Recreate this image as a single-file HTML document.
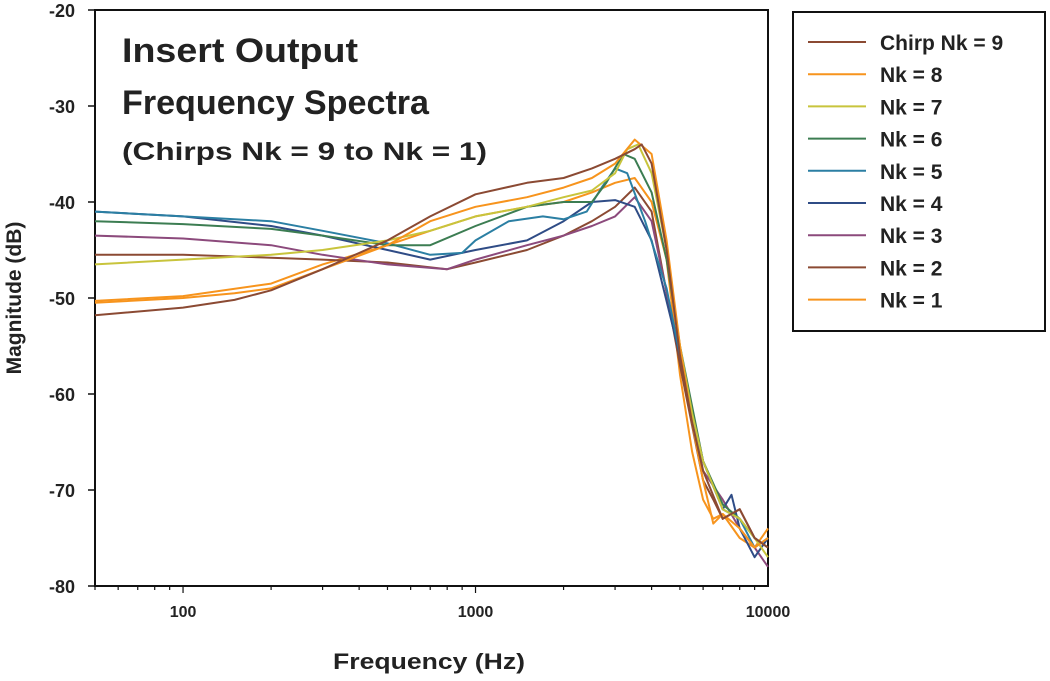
<!DOCTYPE html>
<html><head><meta charset="utf-8"><style>
body{margin:0;background:#fff;}
svg text{font-family:"Liberation Sans",Arial,sans-serif;font-weight:bold;fill:#222;}
</style></head><body>
<svg id="chart" width="1050" height="676" viewBox="0 0 1050 676" xmlns="http://www.w3.org/2000/svg">
<rect x="95" y="10" width="673" height="576" fill="#fff" stroke="#111" stroke-width="2"/>
<g id="ticks"></g>
<g id="series"></g>
<text x="122" y="62" font-size="34" textLength="236" lengthAdjust="spacingAndGlyphs">Insert Output</text>
<text x="122" y="114" font-size="34" textLength="307" lengthAdjust="spacingAndGlyphs">Frequency Spectra</text>
<text x="122" y="160" font-size="25" textLength="365" lengthAdjust="spacingAndGlyphs">(Chirps Nk = 9 to Nk = 1)</text>
<text x="429" y="669" font-size="22" text-anchor="middle" textLength="192" lengthAdjust="spacingAndGlyphs">Frequency (Hz)</text>
<text transform="translate(21,298) rotate(-90)" font-size="21" text-anchor="middle">Magnitude (dB)</text>
<rect x="793" y="12" width="252" height="319" fill="#fff" stroke="#111" stroke-width="2"/>
<g id="legend"></g>
</svg>
<script>
const names=["Chirp Nk = 9","Nk = 8","Nk = 7","Nk = 6","Nk = 5","Nk = 4","Nk = 3","Nk = 2","Nk = 1"];
const colors=["#8b4a33","#f7941d","#c8c43c","#3c7d52","#2b7fa3","#2f4c86","#8c4a7c","#8b4a33","#f7941d"];
const yTicks=[-20,-30,-40,-50,-60,-70,-80];
const xTicks=[100,1000,10000];
const f9=[50,100,150,200,300,500,700,1000,1500,2000,2500,3000,3500,3700,4000,4500,5000,5500,6000,7000,8000,9000,10000];
const m9=[-51.8,-51,-50.2,-49.2,-47,-44,-41.5,-39.2,-38,-37.5,-36.5,-35.5,-34.5,-34,-36,-45,-56,-63,-68,-73,-72,-75,-76];
const f8=[50,100,150,200,300,500,700,1000,1500,2000,2500,3000,3500,4000,4500,5000,5500,6000,6500,7000,8000,9000,10000];
const m8=[-50.5,-50,-49.5,-49,-47,-44.5,-42,-40.5,-39.5,-38.5,-37.5,-36,-33.5,-35,-44,-55,-63,-69,-73.5,-72.5,-74,-76,-75];
const f7=[50,100,200,300,500,700,1000,1500,2000,2500,3000,3300,3600,4000,4500,5000,5500,6000,7000,8000,9000,10000];
const m7=[-46.5,-46,-45.5,-45,-44,-43,-41.5,-40.5,-39.5,-38.8,-37,-34.5,-34,-37,-45,-55,-62,-67,-72,-73,-75,-77];
const f6=[50,100,200,300,500,700,1000,1500,2000,2500,2800,3200,3500,4000,4500,5000,6000,7000,8000,9000,10000];
const m6=[-42,-42.3,-42.8,-43.5,-44.5,-44.5,-42.5,-40.5,-40,-40,-38,-35,-35.5,-39,-46,-55,-67,-71.5,-73,-75,-76];
const f5=[50,100,200,300,500,700,900,1000,1300,1700,2000,2400,2700,3000,3300,3800,4500,5000,6000,7000,8000,9000,10000];
const m5=[-41,-41.5,-42,-43,-44.3,-45.5,-45.3,-44,-42,-41.5,-41.8,-41,-38.5,-36.5,-37,-42,-49,-56,-67,-72,-73,-76,-75];
const f4=[50,100,200,300,500,700,1000,1500,2000,2500,3000,3500,4000,5000,6000,7000,7500,8000,9000,10000];
const m4=[-41,-41.5,-42.5,-43.5,-45,-46,-45,-44,-42,-40,-39.8,-40.5,-44,-56,-67,-72,-70.5,-74,-77,-75];
const f3=[50,100,200,300,500,800,1000,1500,2000,2500,3000,3500,4000,5000,6000,7000,8000,9000,10000];
const m3=[-43.5,-43.8,-44.5,-45.5,-46.5,-47,-46,-44.5,-43.5,-42.5,-41.5,-39.5,-42,-56,-68,-71,-74,-76,-78];
const f2=[50,100,200,300,500,800,1000,1500,2000,2500,3000,3500,4000,5000,6000,6500,7000,8000,9000,10000];
const m2=[-45.5,-45.5,-45.8,-46,-46.3,-47,-46.3,-45,-43.5,-42,-40.5,-38.5,-41,-57,-69,-71,-73,-72,-75,-76];
const f1=[50,100,200,300,500,700,1000,1500,2000,2500,3000,3500,4000,4500,5000,5500,6000,6500,7000,8000,9000,10000];
const m1=[-50.3,-49.8,-48.5,-46.5,-44.5,-43,-41.5,-40.5,-40,-39,-38,-37.5,-40,-46,-58,-66,-71,-73,-72.5,-75,-76,-74];
const freqs=[f9,f8,f7,f6,f5,f4,f3,f2,f1];
const mags=[m9,m8,m7,m6,m5,m4,m3,m2,m1];

const NS="http://www.w3.org/2000/svg";
const X0=95,X1=768,Y0=10,Y1=586;
function xs(f){return X0+(Math.log10(f)-Math.log10(50))/(4-Math.log10(50))*(X1-X0);}
function ys(v){return Y0+(-20-v)/60*(Y1-Y0);}
function mk(t,a){const e=document.createElementNS(NS,t);for(const k in a)e.setAttribute(k,a[k]);return e;}
const tg=document.getElementById('ticks');
yTicks.forEach(v=>{
  const l=mk('line',{x1:X0-7,x2:X0,y1:ys(v),y2:ys(v),stroke:'#111','stroke-width':1.5});
  
  
  tg.appendChild(l);
  const t=mk('text',{x:X0-20,y:ys(v)+7,'font-size':18,'text-anchor':'end'});
  
  
  t.textContent=v;tg.appendChild(t);
});
for(let d=10;d<=1000;d*=10){for(let k=1;k<=9;k++){const fv=k*d;if(fv<50||fv>10000)continue;
  const major=(k===1);
  const l=mk('line',{x1:xs(fv),x2:xs(fv),y1:Y1,y2:Y1+(major?7:4),stroke:'#111','stroke-width':1.2});
  
  
  tg.appendChild(l);}}
xTicks.forEach(v=>{
  const t=mk('text',{x:xs(v),y:Y1+31,'font-size':16,'text-anchor':'middle'});
  
  
  t.textContent=v;tg.appendChild(t);
});
const sg=document.getElementById('series');
for(let i=freqs.length-1;i>=0;i--){
  const d=freqs[i].map((f,j)=>(j?'L':'M')+xs(f).toFixed(1)+','+ys(mags[i][j]).toFixed(1)).join(' ');
  const p=mk('path',{d:d,fill:'none',stroke:colors[i],'stroke-width':2,'stroke-linejoin':'round'});
  
  
  sg.appendChild(p);
}
const lg=document.getElementById('legend');
names.forEach((n,i)=>{
  const y=42+i*32.2;
  const l=mk('line',{x1:808,x2:866,y1:y,y2:y,stroke:colors[i],'stroke-width':2});
  
  
  lg.appendChild(l);
  const t=mk('text',{x:880,y:y+8,'font-size':21});
  
  
  t.textContent=n;lg.appendChild(t);
});
</script>
</body></html>
